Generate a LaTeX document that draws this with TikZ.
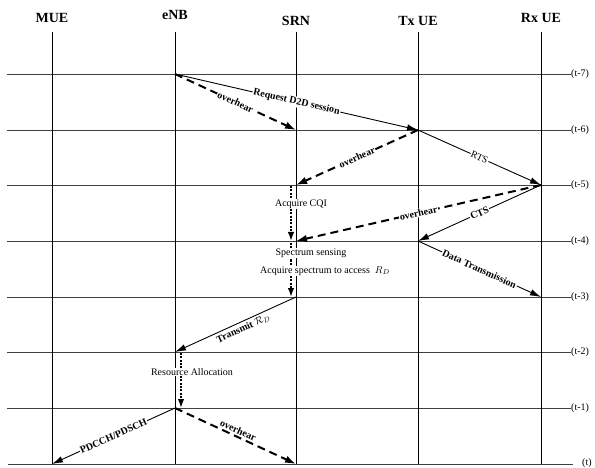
\documentclass[tikz,border=0pt]{standalone}
\usepackage{fontspec}
\setmainfont{Liberation Serif}
\usetikzlibrary{arrows.meta}
\begin{document}
\begin{tikzpicture}[x=1pt,y=-1pt,
  head/.style={font=\bfseries\fontsize{14}{16}\selectfont, inner sep=0pt},
  tlab/.style={font=\fontsize{10}{11}\selectfont, anchor=west, inner sep=0pt},
  gridh/.style={draw=black!75, line width=0.8pt},
  gridv/.style={draw=black, line width=1pt},
  msg/.style={draw=black, line width=0.9pt, -{Latex[length=11pt,width=6.5pt]}},
  ovh/.style={draw=black, line width=2pt, dash pattern=on 8pt off 5pt, -{Latex[length=11pt,width=7.5pt]}},
  proc/.style={draw=black, line width=1.6pt, dash pattern=on 2pt off 1.3pt, -{Latex[length=9pt,width=6.5pt]}},
  lbl/.style={font=\bfseries\fontsize{10}{12}\selectfont, fill=white, inner sep=0.8pt, sloped},
  lblr/.style={font=\fontsize{10}{12}\selectfont, fill=white, inner sep=0.8pt, sloped},
  note/.style={font=\fontsize{10}{12}\selectfont, fill=white, inner sep=0.8pt},
]
\fill[white] (0,0) rectangle (595,468);
\useasboundingbox (0,0) rectangle (595,468);

% headers
\node[head] (hM) at (52,18) {MUE};
\node[head] (hE) at (175,15) {eNB};
\node[head] (hS) at (296,21) {SRN};
\node[head] (hT) at (418,21) {Tx UE};
\node[head] (hR) at (541,18) {Rx UE};

% grid coordinates
\foreach \n/\x in {M/52, E/175, S/296, T/418, R/541}{
  \coordinate (\n top) at (\x,32);
  \foreach \t/\y in {7/74, 6/130, 5/185, 4/241, 3/297, 2/352, 1/408, 0/464}{
    \coordinate (\n\t) at (\x,\y);
  }
}

% horizontal time lines and labels
\foreach \t/\y/\txt in {7/74/(t-7), 6/130/(t-6), 5/185/(t-5), 4/241/(t-4), 3/297/(t-3), 2/352/(t-2), 1/408/(t-1)}{
  \coordinate (L\t) at (7,\y);
  \node[tlab] (lab\t) at (571,\y) {\txt};
  \draw[gridh] (L\t) -- (lab\t.west);
}
\coordinate (L0) at (8,464);
\node[tlab] (lab0) at (582,463) {(t)};
\draw[gridh] (L0) -- (573,464);

% vertical lines
\foreach \n in {M,E,S,T,R}{
  \draw[gridv] (\n top) -- (\n0);
}

% messages
\draw[msg] (E7) -- node[lbl] {Request D2D session} (T6);
\draw[ovh] (E7) -- node[lbl] {overhear} (S6);
\draw[ovh] (T6) -- node[lbl] {overhear} (S5);
\draw[msg] (T6) -- node[lblr] {RTS} (R5);
\draw[ovh] (R5) -- node[lbl] {overhear} (S4);
\draw[msg] (R5) -- node[lbl] {CTS} (T4);
\draw[msg] (T4) -- node[lbl] {Data Transmission} (R3);
\draw[msg] (S3) -- (E2);
\path (E2) -- node[pos=0.54, below=2pt, sloped, font=\bfseries\fontsize{10}{12}\selectfont, inner sep=0.8pt] (tx) {Transmit $\mathcal{R}_D$} (S3);
\draw[msg] (E1) -- node[lbl] {PDCCH/PDSCH} (M0);
\draw[ovh] (E1) -- node[above=1pt, sloped, font=\bfseries\fontsize{10}{12}\selectfont, inner sep=0.8pt] (ov5) {overhear} (S0);

% processing steps
\coordinate (p1a) at (291,186);
\coordinate (p1b) at (291,241);
\coordinate (p2a) at (291,243);
\coordinate (p2b) at (291,297);
\coordinate (p3a) at (181,353);
\coordinate (p3b) at (181,408);
\draw[proc] (p1a) -- (p1b);
\draw[proc] (p2a) -- (p2b);
\draw[proc] (p3a) -- (p3b);
\node[note] (n1) at (301,204) {Acquire CQI};
\node[note] (n2) at (311,253) {Spectrum sensing};
\node[note] (n3) at (325,271) {Acquire spectrum to access \ $R_D$};
\node[note] (n4) at (192,372) {Resource Allocation};
\end{tikzpicture}
\end{document}
